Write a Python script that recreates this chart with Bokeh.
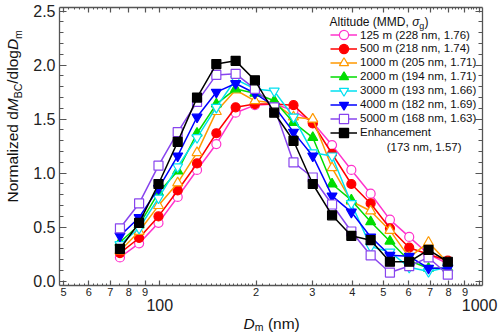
from math import pi
from bokeh.plotting import figure
from bokeh.layouts import column, row
from bokeh.models import (LinearAxis, LogAxis, FixedTicker, PrintfTickFormatter,
                          Label, Legend, LegendItem)
from bokeh.embed import file_html
from bokeh.resources import INLINE

# ---------------- data ----------------
diam_nm = [75.1, 86.2, 99.1, 113.8, 130.8, 150.3, 172.7, 198.4, 228.0,
           261.9, 300.9, 345.7, 397.2, 456.4, 524.4, 602.5, 692.2, 795.4]

alt_125m = [0.22, 0.35, 0.54, 0.78, 1.03, 1.27, 1.56, 1.63, 1.64, 1.58, 1.47, 1.26, 1.03, 0.81, 0.57, 0.41, 0.25, 0.16]
alt_500m = [0.26, 0.40, 0.60, 0.84, 1.09, 1.37, 1.61, 1.64, 1.64, 1.63, 1.46, 1.18, 0.90, 0.72, 0.49, 0.31, 0.25, 0.19]
alt_1000m = [0.28, 0.46, 0.70, 0.91, 1.19, 1.57, 1.77, 1.67, 1.65, 1.52, 1.50, 1.05, 0.74, 0.65, 0.47, 0.22, 0.36, 0.17]
alt_2000m = [0.36, 0.52, 0.82, 1.02, 1.37, 1.64, 1.78, 1.74, 1.67, 1.47, 1.33, 0.90, 0.75, 0.55, 0.37, 0.19, 0.12, 0.12]
alt_3000m = [0.34, 0.49, 0.77, 1.06, 1.33, 1.61, 1.87, 1.78, 1.76, 1.52, 1.19, 1.16, 0.72, 0.32, 0.27, 0.13, 0.09, 0.13]
alt_4000m = [0.42, 0.59, 0.86, 1.16, 1.52, 1.75, 1.83, 1.74, 1.62, 1.38, 1.16, 0.79, 0.64, 0.41, 0.24, 0.23, 0.12, 0.12]
alt_5000m = [0.49, 0.72, 1.07, 1.38, 1.66, 1.91, 1.92, 1.78, 1.61, 1.10, 0.96, 0.71, 0.46, 0.24, 0.08, 0.14, 0.22, 0.06]
enhancement = [0.30, 0.54, 0.90, 1.29, 1.70, 2.01, 2.04, 1.86, 1.56, 1.30, 0.90, 0.61, 0.42, 0.38, 0.18, 0.18, 0.29, 0.18]

series_labels = ["125 m (228 nm, 1.76)", "500 m (218 nm, 1.74)", "1000 m (205 nm, 1.71)",
                 "2000 m (194 nm, 1.71)", "3000 m (193 nm, 1.66)", "4000 m (182 nm, 1.69)",
                 "5000 m (168 nm, 1.63)", "Enhancement"]
enh_second_line = "(173 nm, 1.57)"

y_major = [0.0, 0.5, 1.0, 1.5, 2.0, 2.5]
y_minor = [0.1, 0.2, 0.3, 0.4, 0.6, 0.7, 0.8, 0.9, 1.1, 1.2, 1.3, 1.4, 1.6, 1.7, 1.8, 1.9,
           2.1, 2.2, 2.3, 2.4]

x_digit_ticks = [50, 60, 70, 80, 90, 200, 300, 400, 500, 600, 700, 800, 900]
x_digit_labels = ["5", "6", "7", "8", "9", "2", "3", "4", "5", "6", "7", "8", "9"]
x_decade_ticks = [100, 1000]
x_decade_labels = ["100", "1000"]
x_minor = [52, 54, 56, 58, 62, 64, 66, 68, 75, 85, 95,
           105, 110, 115, 120, 125, 130, 135, 140, 145, 150, 155, 160, 165, 170, 175, 180, 185, 190, 195,
           210, 220, 230, 240, 250, 260, 270, 280, 290,
           310, 320, 330, 340, 350, 360, 370, 380, 390,
           420, 440, 460, 480, 520, 540, 560, 580, 620, 640, 660, 680,
           720, 740, 760, 780, 820, 840, 860, 880, 920, 940, 960, 980]

# ---------------- style ----------------
FONT = "Liberation Sans"
AX = "#555555"
TXT = "#111111"
styles = [("#ff33cc", "circle", False), ("#ff0000", "circle", True),
          ("#ff9900", "triangle", False), ("#00dd00", "triangle", True),
          ("#00e0f0", "inverted_triangle", False), ("#0000ff", "inverted_triangle", True),
          ("#8844ee", "square", False), ("#000000", "square", True)]
series = [alt_125m, alt_500m, alt_1000m, alt_2000m, alt_3000m, alt_4000m, alt_5000m, enhancement]

MAIN_W, MAIN_H = 470, 313
FRAME_T, FRAME_B = 7, 28
p = figure(width=MAIN_W, height=MAIN_H, x_axis_type="log", x_range=(48.6, 1021),
           y_range=(-0.0398, 2.534),
           output_backend="svg", toolbar_location=None, x_axis_location=None, y_axis_location=None,
           min_border_left=27, min_border_right=18, min_border_top=FRAME_T, min_border_bottom=FRAME_B)
p.outline_line_color = None
p.xgrid.visible = False
p.ygrid.visible = False


def style_axis(ax, major_in, minor_in):
    ax.axis_line_color = AX
    ax.axis_line_width = 1.3
    ax.major_tick_line_color = AX
    ax.minor_tick_line_color = AX
    ax.major_tick_line_width = 1.2
    ax.minor_tick_line_width = 1
    ax.major_tick_in = major_in
    ax.major_tick_out = 0
    ax.minor_tick_in = minor_in
    ax.minor_tick_out = 0
    ax.major_label_text_font = FONT
    ax.major_label_text_color = "#222222"


def hide_labels(ax):
    ax.major_label_text_font_size = "1px"
    ax.major_label_text_alpha = 0
    ax.major_label_standoff = 0


yl = LinearAxis(ticker=FixedTicker(ticks=y_major, minor_ticks=y_minor),
                formatter=PrintfTickFormatter(format="%.1f"))
style_axis(yl, 7, 4)
yl.major_label_text_font_size = "16px"
yl.major_label_standoff = 4
p.add_layout(yl, "left")

yr = LinearAxis(ticker=FixedTicker(ticks=y_major, minor_ticks=y_minor))
style_axis(yr, 7, 4)
hide_labels(yr)
p.add_layout(yr, "right")

x_all_major = sorted(x_digit_ticks + x_decade_ticks)
xa = LogAxis(ticker=FixedTicker(ticks=x_all_major, minor_ticks=x_minor))
style_axis(xa, 5, 2)
overrides = {t: l for t, l in zip(x_digit_ticks, x_digit_labels)}
overrides.update({t: "" for t in x_decade_ticks})
xa.major_label_overrides = overrides
xa.major_label_text_font_size = "11px"
xa.major_label_standoff = 2
p.add_layout(xa, "below")

xc = LogAxis(ticker=FixedTicker(ticks=x_decade_ticks, minor_ticks=[]))
style_axis(xc, 0, 0)
xc.axis_line_color = None
xc.major_tick_line_color = None
xc.major_label_overrides = {t: l for t, l in zip(x_decade_ticks, x_decade_labels)}
xc.major_label_text_font_size = "16px"
xc.major_label_standoff = 0
p.add_layout(xc, "below")

xt = LogAxis(ticker=FixedTicker(ticks=x_all_major, minor_ticks=x_minor))
style_axis(xt, 5, 2)
hide_labels(xt)
p.add_layout(xt, "above")

# ---------------- series + legend ----------------
FRAME_H = MAIN_H - FRAME_T - FRAME_B      # 278
ROW0, ROW_STEP = 27.5, 13.96              # legend row centres, px below frame top
for i, (data, (color, marker, filled), lab_text) in enumerate(zip(series, styles, series_labels)):
    lr = p.line(diam_nm, data, line_color=color, line_width=1.5)
    sr = p.scatter(diam_nm, data, marker=marker, size=9 if marker in ("circle", "square") else 10,
                   line_color=color, line_width=1.2,
                   fill_color=color if filled else "white")
    centre = ROW0 + i * ROW_STEP
    leg = Legend(items=[LegendItem(label=lab_text, renderers=[lr, sr])],
                 location=(271, FRAME_H - centre - 11.5), orientation="vertical",
                 glyph_width=27, glyph_height=23, label_height=23, label_standoff=3,
                 spacing=0, padding=0, margin=0, border_line_color=None,
                 background_fill_alpha=0, label_text_font=FONT, label_text_font_size="11.5px",
                 label_text_color=TXT)
    p.add_layout(leg)


MID = 0.35   # distance from alphabetic baseline to the middle of the text box, in em


def lab(fig, text, x, y, size_px, style="normal", angle=0.0, align="left"):
    """x, y give the alphabetic baseline (screen px, frame-relative); drawn with a middle anchor."""
    if angle == 0.0:
        y = y + MID * size_px
    else:
        x = x - MID * size_px
    fig.add_layout(Label(x=x, y=y, x_units="screen", y_units="screen", text=text, angle=angle,
                         text_align=align, text_baseline="middle", text_font=FONT,
                         text_font_size=f"{size_px}px", text_font_style=style, text_color=TXT))


# legend title "Altitude (MMD, σg)"
tb = FRAME_H - 19
lab(p, "Altitude (MMD,", 270, tb, 12)
lab(p, "σ", 352.7, tb, 12, style="italic")
lab(p, "g", 359.8, tb - 3, 9)
lab(p, ")", 365.0, tb, 12)
p.add_layout(Label(x=402, y=FRAME_H - 139, x_units="screen", y_units="screen", text=enh_second_line,
                   text_align="right", text_baseline="middle", text_font=FONT,
                   text_font_size="11.5px", text_color=TXT))


def blank_fig(w, h):
    f = figure(width=w, height=h, x_range=(0, 1), y_range=(0, 1), output_backend="svg",
               toolbar_location=None, x_axis_location=None, y_axis_location=None,
               min_border=0, min_border_left=0, min_border_right=0,
               min_border_top=0, min_border_bottom=0, title=None)
    f.outline_line_color = None
    f.xgrid.visible = False
    f.ygrid.visible = False
    return f


# y title column: Normalized dM_BC/dlogD_m
yt = blank_fig(30, MAIN_H)
bx, sub = 17.5, 3.3
lab(yt, "Normalized d", bx, 83, 15.5, angle=pi / 2)
lab(yt, "M", bx, 174.3, 15.5, style="italic", angle=pi / 2)
lab(yt, "BC", bx + sub, 187.2, 10.5, angle=pi / 2)
lab(yt, "/dlog", bx, 201.8, 15.5, angle=pi / 2)
lab(yt, "D", bx, 235.4, 15.5, style="italic", angle=pi / 2)
lab(yt, "m", bx + sub, 246.6, 10.5, angle=pi / 2)

# x title strip: D_m (nm)
xtf = blank_fig(500, 332 - MAIN_H)
lab(xtf, "D", 243, 4.0, 15.5, style="italic")
lab(xtf, "m", 254.2, 2.3, 10.5)
lab(xtf, "(nm)", 267.4, 4.0, 15.5)

layout = column(row(yt, p, spacing=0), xtf, spacing=0)
open("out.html", "w").write(file_html(layout, INLINE))
